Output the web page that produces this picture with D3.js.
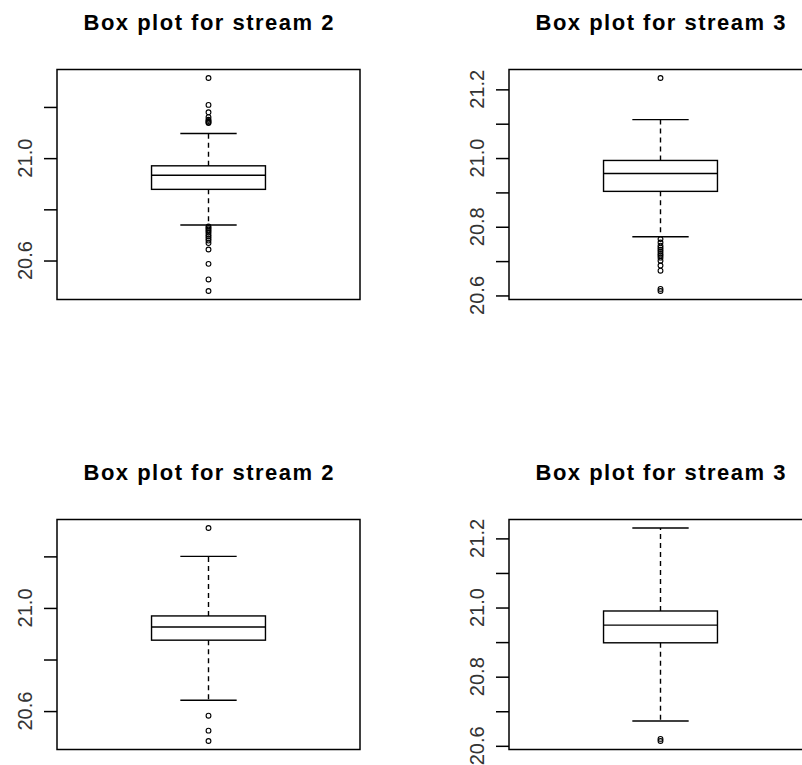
<!DOCTYPE html>
<html>
<head>
<meta charset="utf-8">
<script src="https://cdn.jsdelivr.net/npm/d3@7"></script>
<style>
  html, body { margin: 0; padding: 0; background: #fff; }
  svg { display: block; }
</style>
</head>
<body>
<svg id="chart" width="802" height="765"></svg>
<script>
// Panel titles
const titles = [
  "Box plot for stream 2", "Box plot for stream 3",
  "Box plot for stream 2", "Box plot for stream 3"
];

// Five-number summaries: [lower whisker, Q1, median, Q3, upper whisker]
const stats2a = [20.739, 20.878, 20.933, 20.970, 21.096];
const stats3a = [20.771, 20.903, 20.955, 20.993, 21.112];
const stats2b = [20.642, 20.875, 20.926, 20.969, 21.200];
const stats3b = [20.672, 20.898, 20.949, 20.990, 21.230];

// Points beyond the whiskers
const out2a = [21.313, 21.208, 21.179, 21.160, 21.150, 21.145, 21.140, 21.137,
               20.733, 20.727, 20.721, 20.715, 20.709, 20.701, 20.694, 20.686,
               20.678, 20.668, 20.643, 20.587, 20.526, 20.481];
const out3a = [21.233, 20.764, 20.754, 20.745, 20.739, 20.733, 20.727, 20.721,
               20.716, 20.710, 20.701, 20.687, 20.672, 20.619, 20.613];
const out2b = [21.310, 20.582, 20.524, 20.484];
const out3b = [20.620, 20.614];

// Axis ticks and which of them carry a label
const ticksCoarse = [20.6, 20.8, 21.0, 21.2];
const labelsCoarse = [20.6, 21.0];
const ticksFine = [20.6, 20.7, 20.8, 20.9, 21.0, 21.1, 21.2];
const labelsFine = [20.6, 20.8, 21.0, 21.2];

const panels = [
  { title: titles[0], stats: stats2a, out: out2a, ticks: ticksCoarse, labels: labelsCoarse, x0: 57,  y0: 69.5 },
  { title: titles[1], stats: stats3a, out: out3a, ticks: ticksFine,   labels: labelsFine,   x0: 509, y0: 69.5 },
  { title: titles[2], stats: stats2b, out: out2b, ticks: ticksCoarse, labels: labelsCoarse, x0: 57,  y0: 519.5 },
  { title: titles[3], stats: stats3b, out: out3b, ticks: ticksFine,   labels: labelsFine,   x0: 509, y0: 519.5 }
];

const plotW = 303, plotH = 230;
const boxHalf = 0.188, capHalf = 0.093;
const svg = d3.select("#chart");
const fmt = d3.format(".1f");

panels.forEach(p => {
  const g = svg.append("g");
  const all = p.stats.concat(p.out);
  const lo = d3.min(all), hi = d3.max(all), pad = (hi - lo) * 0.04;

  const y = d3.scaleLinear().domain([lo - pad, hi + pad]).range([p.y0 + plotH, p.y0]);
  const x = d3.scaleLinear().domain([0, 1]).range([p.x0, p.x0 + plotW]);

  // Title
  g.append("text")
    .attr("x", x(0.5)).attr("y", p.y0 - 39.5)
    .attr("text-anchor", "middle")
    .attr("font-family", "Liberation Sans, Arial, sans-serif")
    .attr("font-weight", "bold")
    .attr("font-size", 22)
    .attr("textLength", 250)
    .attr("lengthAdjust", "spacing")
    .attr("fill", "#000")
    .text(p.title);

  // Plot frame
  g.append("rect")
    .attr("x", x(0)).attr("y", y.range()[1])
    .attr("width", plotW).attr("height", plotH)
    .attr("fill", "none").attr("stroke", "#000").attr("stroke-width", 1.5);

  // Y axis ticks
  const axis = d3.axisLeft(y).tickValues(p.ticks).tickSize(13)
    .tickFormat(() => "");
  const ax = g.append("g").attr("transform", `translate(${x(0)},0)`).call(axis);
  ax.select(".domain").remove();
  ax.selectAll(".tick line").attr("stroke", "#000").attr("stroke-width", 1.5);

  // Rotated tick labels
  g.selectAll("text.lab").data(p.labels).join("text")
    .attr("class", "lab")
    .attr("transform", d => `translate(${x(0) - 25.5},${y(d)}) rotate(-90)`)
    .attr("text-anchor", "middle")
    .attr("font-family", "Liberation Sans, Arial, sans-serif")
    .attr("font-size", 21)
    .attr("textLength", 39)
    .attr("lengthAdjust", "spacingAndGlyphs")
    .attr("fill", "#333")
    .text(d => fmt(d));

  const [wLo, q1, med, q3, wHi] = p.stats;
  const cx = x(0.5);

  // Whiskers (dashed)
  g.append("line").attr("x1", cx).attr("x2", cx).attr("y1", y(q3)).attr("y2", y(wHi))
    .attr("stroke", "#000").attr("stroke-width", 1.4).attr("stroke-dasharray", "5,4");
  g.append("line").attr("x1", cx).attr("x2", cx).attr("y1", y(q1)).attr("y2", y(wLo))
    .attr("stroke", "#000").attr("stroke-width", 1.4).attr("stroke-dasharray", "5,4");

  // Whisker caps
  [wLo, wHi].forEach(v => {
    g.append("line").attr("x1", x(0.5 - capHalf)).attr("x2", x(0.5 + capHalf))
      .attr("y1", y(v)).attr("y2", y(v))
      .attr("stroke", "#000").attr("stroke-width", 1.4);
  });

  // Box and median
  g.append("rect")
    .attr("x", x(0.5 - boxHalf)).attr("y", y(q3))
    .attr("width", x(0.5 + boxHalf) - x(0.5 - boxHalf)).attr("height", y(q1) - y(q3))
    .attr("fill", "none").attr("stroke", "#000").attr("stroke-width", 1.4);
  g.append("line").attr("x1", x(0.5 - boxHalf)).attr("x2", x(0.5 + boxHalf))
    .attr("y1", y(med)).attr("y2", y(med))
    .attr("stroke", "#000").attr("stroke-width", 1.4);

  // Outliers
  g.selectAll("circle").data(p.out).join("circle")
    .attr("cx", cx).attr("cy", d => y(d)).attr("r", 2.4)
    .attr("fill", "none").attr("stroke", "#000").attr("stroke-width", 1.1);
});
</script>
</body>
</html>
